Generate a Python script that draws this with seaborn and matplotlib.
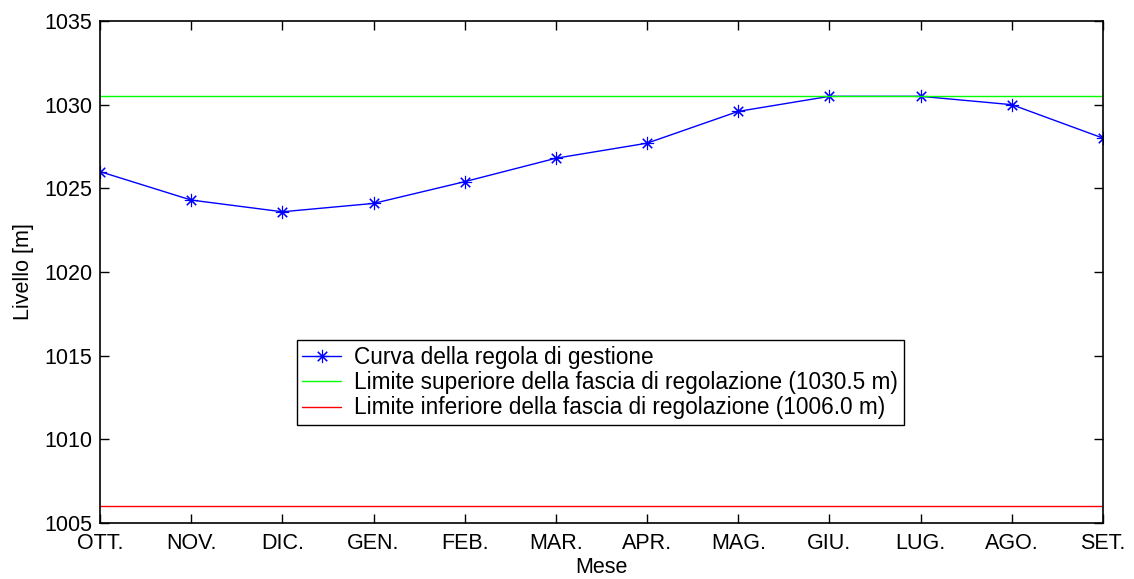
import numpy as np
import pandas as pd
import matplotlib
matplotlib.use("Agg")
import matplotlib.pyplot as plt
import seaborn as sns

# Monthly rule curve of reservoir level (hydrological year Oct -> Sep)
months = ["OTT.", "NOV.", "DIC.", "GEN.", "FEB.", "MAR.", "APR.", "MAG.", "GIU.", "LUG.", "AGO.", "SET."]
levels = [1026.0, 1024.3, 1023.6, 1024.1, 1025.4, 1026.8, 1027.7, 1029.6, 1030.5, 1030.5, 1030.0, 1028.0]
upper_limit = 1030.5
lower_limit = 1006.0
y_ticks = [1005, 1010, 1015, 1020, 1025, 1030, 1035]

sns.set_style("ticks")
plt.rcParams["font.family"] = ["Liberation Sans", "DejaVu Sans"]
plt.rcParams["xtick.direction"] = "in"
plt.rcParams["ytick.direction"] = "in"
plt.rcParams["text.color"] = "black"
plt.rcParams["axes.labelcolor"] = "black"
plt.rcParams["xtick.labelcolor"] = "black"
plt.rcParams["ytick.labelcolor"] = "black"

df = pd.DataFrame({"idx": np.arange(len(months)), "livello": levels})

fig = plt.figure(figsize=(11.34, 5.79), dpi=100)
ax = fig.add_axes([0.0882, 0.0967, 0.8845, 0.867])

asterisk = (8, 2, 0)
sns.lineplot(data=df, x="idx", y="livello", ax=ax, color="#0000ff", lw=1.0,
             marker=asterisk, markersize=9.5, markeredgewidth=0.8,
             markeredgecolor="#0000ff", label="Curva della regola di gestione")
ax.axhline(upper_limit, color="#00ff00", lw=1.0,
           label=f"Limite superiore della fascia di regolazione ({upper_limit:.1f} m)")
ax.axhline(lower_limit, color="#ff0000", lw=1.0,
           label=f"Limite inferiore della fascia di regolazione ({lower_limit:.1f} m)")

ax.set_xlim(0, len(months) - 1)
ax.set_ylim(y_ticks[0], y_ticks[-1])
ax.set_xticks(np.arange(len(months)))
ax.set_xticklabels(months)
ax.set_yticks(y_ticks)
ax.tick_params(axis="both", which="both", labelsize=15.5, length=6.7, width=1.0,
               top=True, right=True, color="black")
ax.tick_params(axis="y", pad=5.5)
ax.tick_params(axis="x", pad=7)
for s in ax.spines.values():
    s.set_visible(True)
    s.set_linewidth(1.2)
    s.set_color("black")

ax.set_xlabel("Mese", fontsize=15.5)
ax.set_ylabel("Livello [m]", fontsize=15.5)
ax.xaxis.set_label_coords(0.5, -0.068)
ax.yaxis.set_label_coords(-0.066, 0.5)

leg = ax.legend(loc="lower left", bbox_to_anchor=(0.196, 0.195), fontsize=16.3,
                frameon=True, fancybox=False, edgecolor="black", framealpha=1,
                borderpad=0.25, labelspacing=0.1, handlelength=1.7,
                handletextpad=0.6, borderaxespad=0)
leg.get_frame().set_linewidth(1.0)

fig.savefig("out.png", dpi=100)
